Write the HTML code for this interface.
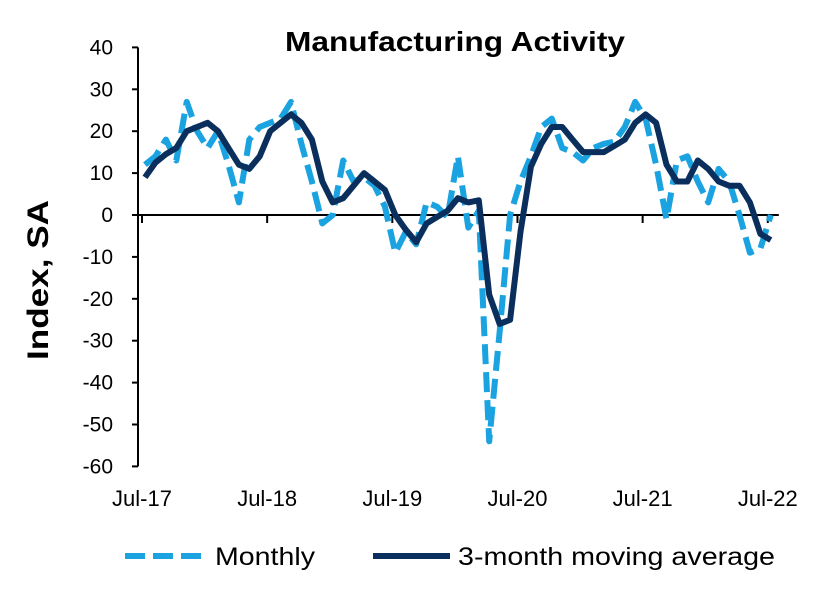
<!DOCTYPE html>
<html><head><meta charset="utf-8"><style>
html,body{margin:0;padding:0;background:#fff;}
svg text{font-family:"Liberation Sans",Arial,sans-serif;fill:#000;}
</style></head><body>
<svg id="chart" width="828" height="591" viewBox="0 0 828 591" xmlns="http://www.w3.org/2000/svg">
<text x="285" y="51" font-size="28" font-weight="bold" textLength="340" lengthAdjust="spacingAndGlyphs">Manufacturing Activity</text>
<text transform="translate(48,280) rotate(-90)" font-size="30" font-weight="bold" text-anchor="middle" textLength="160" lengthAdjust="spacingAndGlyphs">Index, SA</text>
<g id="axes"></g>
<g id="series"></g>
<g>
<line x1="125" y1="556" x2="205" y2="556" stroke="#1aa3e0" stroke-width="6" stroke-dasharray="20,8"/>
<text x="215" y="565" font-size="25" textLength="100" lengthAdjust="spacingAndGlyphs">Monthly</text>
<line x1="373" y1="556" x2="450" y2="556" stroke="#0b2f5c" stroke-width="6"/>
<text x="458" y="565" font-size="25" textLength="317" lengthAdjust="spacingAndGlyphs">3-month moving average</text>
</g>
</svg>
<script>
const yTicks = [40,30,20,10,0,-10,-20,-30,-40,-50,-60];
const xTickLabels = ["Jul-17","Jul-18","Jul-19","Jul-20","Jul-21","Jul-22"];
const monthly = [12,14,18,13,27,20, 16,20,12,3,18,21,22,23,27,17,8,-2, 0,13,8,9,7,2,-9,-4,-7,3,2,-0.5, 14,-3,1,-54,-28,0,8,14,21,23,16,15, 13,16,17,17.5,21,27,23,12,-1,13,14,8, 3,11,8,0,-9,-8,0];
const movingAvg = [9,12.5,14.5,16,20,21, 22,20,16,12,11,14,20,22,24,22,18,8, 3,4,7,10,8,6,0,-3.5,-6.5,-2,-0.5,1, 4,3,3.5,-19,-26,-25,-4,11.5,17,21,21,18, 15,15,15,16.5,18,22,24,22,12,8,8,13, 11,8,7,7,3,-4.5,-6];

const NS="http://www.w3.org/2000/svg";
const yScale = v => 215 - v*4.19;
const xScale = i => 145 + i*10.43;
const axes=document.getElementById('axes');
const series=document.getElementById('series');
function mk(tag,attrs,parent){const e=document.createElementNS(NS,tag);for(const k in attrs)e.setAttribute(k,attrs[k]);parent.appendChild(e);return e;}

const yAxis=mk('line',{x1:138,y1:yScale(40),x2:138,y2:yScale(-60),stroke:'#000','stroke-width':2},axes);


yTicks.forEach(v=>{
  const t=mk('line',{x1:132,y1:yScale(v),x2:138,y2:yScale(v),stroke:'#000','stroke-width':2},axes);
  
  
  const l=mk('text',{x:113,y:yScale(v)+7,'font-size':21,'text-anchor':'end'},axes);
  l.textContent=v;
  
  
});
const xAxis=mk('line',{x1:138,y1:yScale(0),x2:xScale(60)+8,y2:yScale(0),stroke:'#000','stroke-width':2},axes);


xTickLabels.forEach((s,k)=>{
  const x=xScale(k*12)-3;
  const t=mk('line',{x1:x,y1:yScale(0),x2:x,y2:yScale(0)+8,stroke:'#000','stroke-width':2},axes);
  
  
  const l=mk('text',{x:x,y:506,'font-size':22,'text-anchor':'middle'},axes);
  l.textContent=s;
  
  
});
function pts(arr){return arr.map((v,i)=>xScale(i).toFixed(1)+','+yScale(v).toFixed(1)).join(' ');}
const m=mk('polyline',{points:pts(monthly),fill:'none',stroke:'#1aa3e0','stroke-width':6,'stroke-dasharray':'20,8','stroke-linejoin':'round'},series);


const a=mk('polyline',{points:pts(movingAvg),fill:'none',stroke:'#0b2f5c','stroke-width':6,'stroke-linejoin':'round'},series);


</script>
</body></html>
